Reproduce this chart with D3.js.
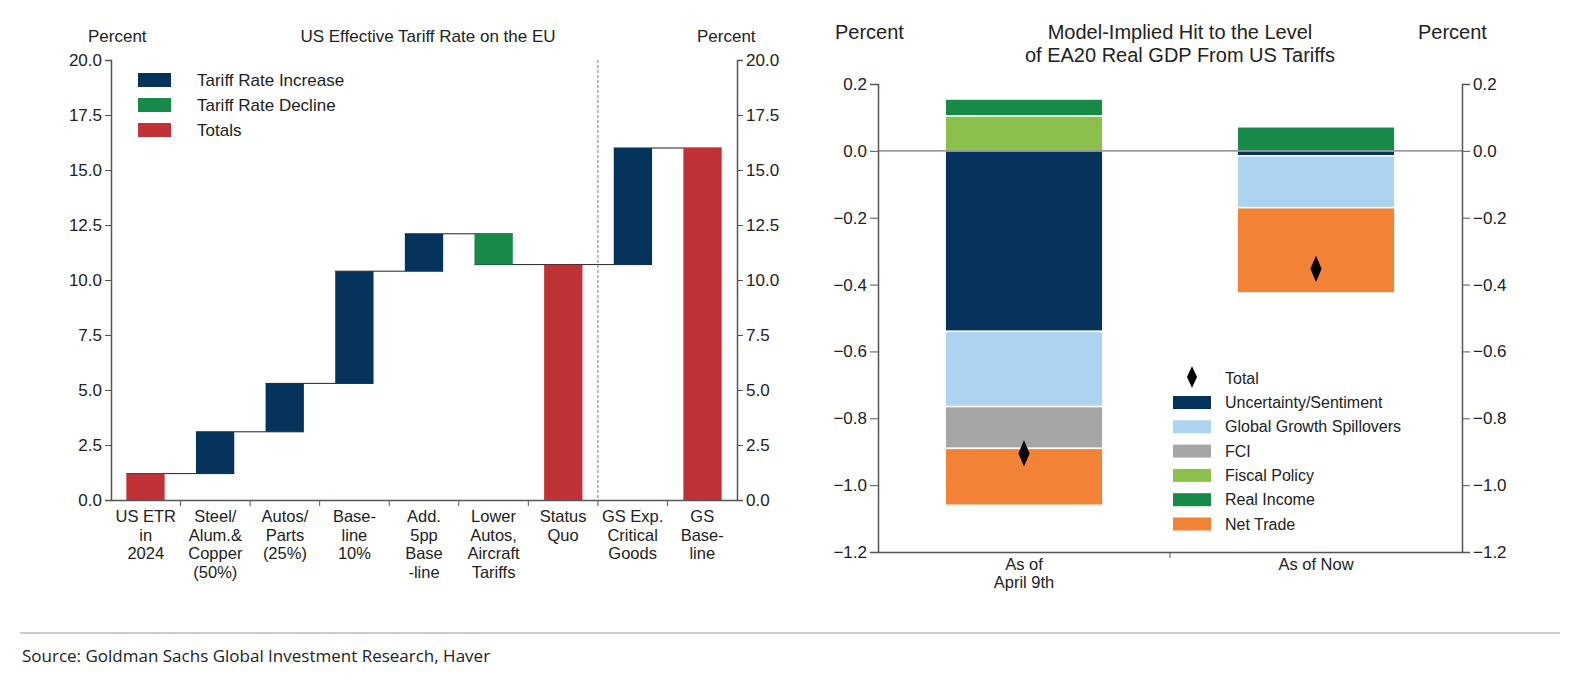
<!DOCTYPE html>
<html><head><meta charset="utf-8">
<script src="https://cdn.jsdelivr.net/npm/d3@7"></script>
<style>body{margin:0;background:#fff}text{font-family:"Liberation Sans",Arial,sans-serif}</style>
</head><body><svg id="c" width="1584" height="696"></svg>
<script>
// ---- Left chart data ----
const wfCategories = ["US ETR|in|2024","Steel/|Alum.&|Copper|(50%)","Autos/|Parts|(25%)","Base-|line|10%","Add.|5pp|Base|-line","Lower|Autos,|Aircraft|Tariffs","Status|Quo","GS Exp.|Critical|Goods","GS|Base-|line"];
const wfStart = [0, 1.2, 3.1, 5.3, 10.4, 12.1, 0, 10.7, 0];
const wfEnd   = [1.2, 3.1, 5.3, 10.4, 12.1, 10.7, 10.7, 16.0, 16.0];
const wfType  = ["total","inc","inc","inc","inc","dec","total","inc","total"];
const wfTicks = [0,2.5,5,7.5,10,12.5,15,17.5,20];
// ---- Right chart data ----
const gdpCategories = ["As of|April 9th","As of Now"];
const seriesNames = ["Uncertainty/Sentiment","Global Growth Spillovers","FCI","Fiscal Policy","Real Income","Net Trade"];
const uncertainty = [-0.54, -0.015];
const spillovers  = [-0.225, -0.155];
const fci         = [-0.125, 0];
const fiscal      = [0.105, 0];
const realIncome  = [0.05, 0.072];
const netTrade    = [-0.17, -0.255];
const totals      = [-0.905, -0.353];
const gdpTicks = [0.2,0,-0.2,-0.4,-0.6,-0.8,-1.0,-1.2];

const svg = d3.select("#c");
const axisCol = "#555", txt = "#222";
const fmt = d3.format(".1f");
const minus = v => fmt(v).replace("-", "−");

// ===== LEFT =====
{
  const L=111,R=737,T=60,B=500;
  const x=d3.scaleBand().domain(d3.range(9)).range([L,R]).paddingInner(0.45).paddingOuter(0.22);
  const xs=d3.scaleBand().domain(d3.range(9)).range([L,R]);
  const y=d3.scaleLinear().domain([0,20]).range([B,T]);
  const col={inc:"#06335b",dec:"#178a4a",total:"#bf3236"};
  const g=svg.append("g");
  // connectors
  for(let i=0;i<8;i++){
    g.append("line").attr("x1",x(i)).attr("x2",x(i+1)+x.bandwidth()).attr("y1",y(wfEnd[i])).attr("y2",y(wfEnd[i])).attr("stroke","#222").attr("stroke-width",1);
  }
  g.selectAll("rect.b").data(d3.range(9)).join("rect").attr("x",i=>x(i)).attr("width",x.bandwidth())
    .attr("y",i=>y(Math.max(wfStart[i],wfEnd[i]))).attr("height",i=>Math.abs(y(wfStart[i])-y(wfEnd[i]))).attr("fill",i=>col[wfType[i]]);
  // dashed
  g.append("line").attr("x1",xs(7)).attr("x2",xs(7)).attr("y1",T).attr("y2",B).attr("stroke","#777").attr("stroke-dasharray","3,2");
  const ya=d3.axisLeft(y).tickValues(wfTicks).tickFormat(fmt).tickSize(6);
  const yb=d3.axisRight(y).tickValues(wfTicks).tickFormat(fmt).tickSize(6);
  [g.append("g").attr("transform",`translate(${L},0)`).call(ya),g.append("g").attr("transform",`translate(${R},0)`).call(yb)].forEach(a=>{
    a.select(".domain").attr("stroke",axisCol).attr("stroke-width",1.5);a.selectAll("line").attr("stroke",axisCol);a.selectAll("text").attr("font-size",17).attr("fill",txt);});
  const xa=g.append("g").attr("transform",`translate(0,${B})`).call(d3.axisBottom(xs).tickValues([]).tickSizeOuter(0));
  xa.select(".domain").attr("stroke",axisCol).attr("stroke-width",1.5);
  d3.range(1,9).forEach(i=>g.append("line").attr("x1",xs(i)).attr("x2",xs(i)).attr("y1",B).attr("y2",B+6).attr("stroke",axisCol));
  wfCategories.forEach((c,i)=>{const t=g.append("text").attr("text-anchor","middle").attr("font-size",16.5).attr("fill",txt);
    c.split("|").forEach((s,k)=>t.append("tspan").attr("x",xs(i)+xs.bandwidth()/2).attr("y",B+22+k*18.5).text(s));});
  g.append("text").attr("x",88).attr("y",42).attr("font-size",17).attr("fill",txt).text("Percent");
  g.append("text").attr("x",697).attr("y",42).attr("font-size",17).attr("fill",txt).text("Percent");
  g.append("text").attr("x",428).attr("y",42).attr("text-anchor","middle").attr("font-size",17).attr("fill",txt).text("US Effective Tariff Rate on the EU");
  [["Tariff Rate Increase",col.inc],["Tariff Rate Decline",col.dec],["Totals",col.total]].forEach((d,k)=>{
    g.append("rect").attr("x",138).attr("y",73+k*25).attr("width",33).attr("height",14).attr("fill",d[1]);
    g.append("text").attr("x",197).attr("y",86+k*25).attr("font-size",17).attr("fill",txt).text(d[0]);});
}
// ===== RIGHT =====
{
  const L=878,R=1462,T=84,B=552;
  const x=d3.scaleBand().domain([0,1]).range([L,R]).paddingInner(0.46).paddingOuter(0.23);
  const xs=d3.scaleBand().domain([0,1]).range([L,R]);
  const y=d3.scaleLinear().domain([-1.2,0.2]).range([B,T]);
  const cols={"Uncertainty/Sentiment":"#06335b","Global Growth Spillovers":"#acd4f0","FCI":"#a6a6a6","Fiscal Policy":"#8bc04d","Real Income":"#178a4a","Net Trade":"#f28236"};
  const vals={"Uncertainty/Sentiment":uncertainty,"Global Growth Spillovers":spillovers,"FCI":fci,"Fiscal Policy":fiscal,"Real Income":realIncome,"Net Trade":netTrade};
  const g=svg.append("g");
  const posOrder=["Fiscal Policy","Real Income"], negOrder=["Uncertainty/Sentiment","Global Growth Spillovers","FCI","Net Trade"];
  [0,1].forEach(i=>{
    let p=0; posOrder.forEach(s=>{const v=vals[s][i]; if(v>0){g.append("rect").attr("x",x(i)).attr("width",x.bandwidth()).attr("y",y(p+v)).attr("height",y(p)-y(p+v)).attr("fill",cols[s]).attr("stroke","#fff").attr("stroke-width",1.5);p+=v;}});
    let n=0; negOrder.forEach(s=>{const v=vals[s][i]; if(v<0){g.append("rect").attr("x",x(i)).attr("width",x.bandwidth()).attr("y",y(n)).attr("height",y(n+v)-y(n)).attr("fill",cols[s]).attr("stroke","#fff").attr("stroke-width",1.5);n+=v;}});
  });
  g.append("line").attr("x1",L).attr("x2",R).attr("y1",y(0)).attr("y2",y(0)).attr("stroke","#777").attr("stroke-width",1.2);
  const sym=d3.symbol().type(d3.symbolDiamond).size(150);
  totals.forEach((v,i)=>g.append("path").attr("d",sym).attr("transform",`translate(${x(i)+x.bandwidth()/2},${y(v)}) scale(0.85,1.15)`).attr("fill","#000"));
  const ya=d3.axisLeft(y).tickValues(gdpTicks).tickFormat(minus).tickSize(8);
  const yb=d3.axisRight(y).tickValues(gdpTicks).tickFormat(minus).tickSize(8);
  [g.append("g").attr("transform",`translate(${L},0)`).call(ya),g.append("g").attr("transform",`translate(${R},0)`).call(yb)].forEach(a=>{
    a.select(".domain").attr("stroke",axisCol).attr("stroke-width",1.5);a.selectAll("line").attr("stroke",axisCol);a.selectAll("text").attr("font-size",17).attr("fill",txt);});
  const xa=g.append("g").attr("transform",`translate(0,${B})`).call(d3.axisBottom(xs).tickValues([]).tickSizeOuter(0));
  xa.select(".domain").attr("stroke",axisCol).attr("stroke-width",1.5);
  g.append("line").attr("x1",xs(1)).attr("x2",xs(1)).attr("y1",B).attr("y2",B+6).attr("stroke",axisCol);
  gdpCategories.forEach((c,i)=>{const t=g.append("text").attr("text-anchor","middle").attr("font-size",16.5).attr("fill",txt);
    c.split("|").forEach((s,k)=>t.append("tspan").attr("x",x(i)+x.bandwidth()/2).attr("y",B+18+k*18).text(s));});
  g.append("text").attr("x",835).attr("y",39).attr("font-size",20).attr("fill",txt).text("Percent");
  g.append("text").attr("x",1418).attr("y",39).attr("font-size",20).attr("fill",txt).text("Percent");
  g.append("text").attr("x",1180).attr("y",39).attr("text-anchor","middle").attr("font-size",20).attr("fill",txt).text("Model-Implied Hit to the Level");
  g.append("text").attr("x",1180).attr("y",62).attr("text-anchor","middle").attr("font-size",20).attr("fill",txt).text("of EA20 Real GDP From US Tariffs");
  g.append("path").attr("d",d3.symbol().type(d3.symbolDiamond).size(110)).attr("transform","translate(1192,377) scale(0.9,1.1)").attr("fill","#000");
  g.append("text").attr("x",1225).attr("y",384).attr("font-size",16).attr("fill",txt).text("Total");
  seriesNames.forEach((s,k)=>{
    g.append("rect").attr("x",1173).attr("y",396+k*24.3).attr("width",38).attr("height",13).attr("fill",cols[s]);
    g.append("text").attr("x",1225).attr("y",408+k*24.3).attr("font-size",16).attr("fill",txt).text(s);});
}
svg.append("line").attr("x1",20).attr("x2",1560).attr("y1",633).attr("y2",633).attr("stroke","#999");
svg.append("text").attr("x",22).attr("y",662).attr("font-size",17).attr("fill","#222").style("font-family","'Open Sans',sans-serif").text("Source: Goldman Sachs Global Investment Research, Haver");
</script></body></html>
